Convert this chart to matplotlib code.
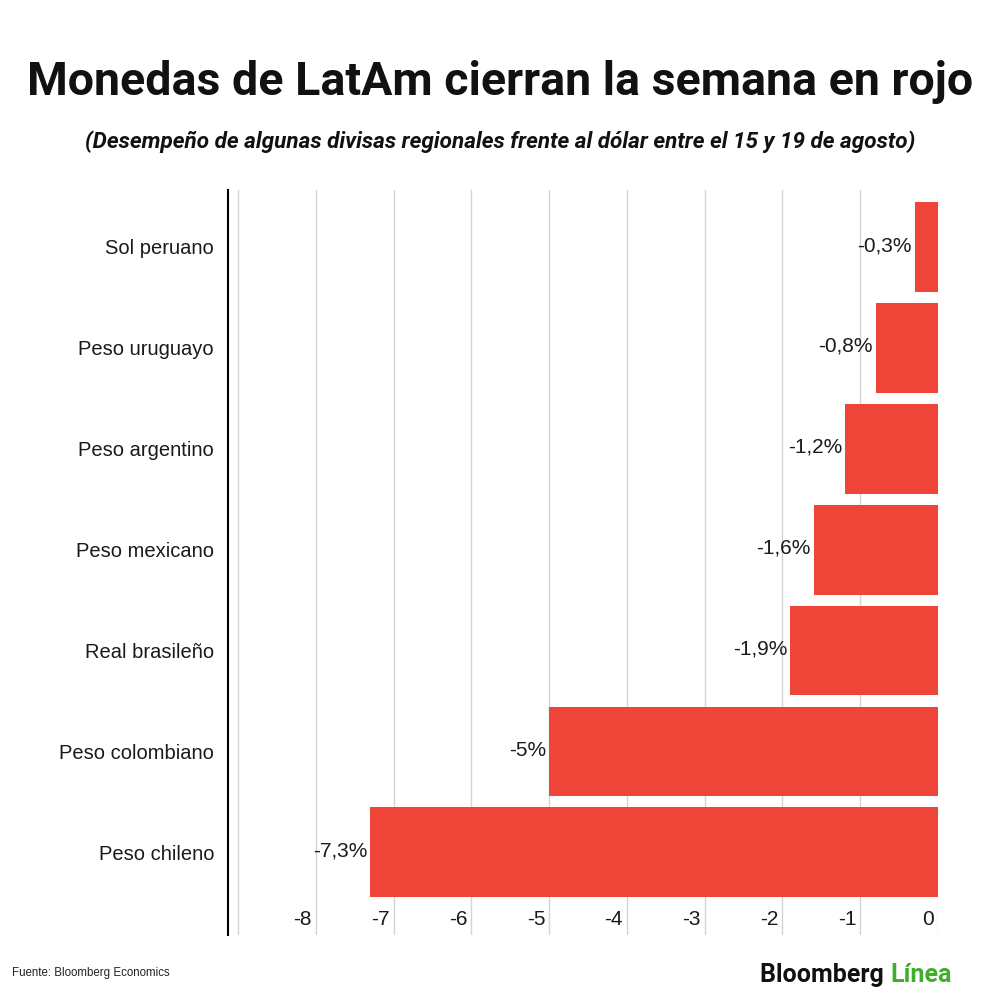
import matplotlib.pyplot as plt
from matplotlib.transforms import ScaledTranslation

# data (top to bottom as shown)
currencies = ["Sol peruano", "Peso uruguayo", "Peso argentino", "Peso mexicano",
              "Real brasileño", "Peso colombiano", "Peso chileno"]
change_pct = [-0.3, -0.8, -1.2, -1.6, -1.9, -5.0, -7.3]
value_labels = ["-0,3%", "-0,8%", "-1,2%", "-1,6%", "-1,9%", "-5%", "-7,3%"]
xticks = [-9, -8, -7, -6, -5, -4, -3, -2, -1, 0]
xtick_labels = ["", "-8", "-7", "-6", "-5", "-4", "-3", "-2", "-1", "0"]

BAR_RED = "#ee4538"
GREEN = "#3fae2a"

plt.rcParams["font.family"] = ["Liberation Sans", "DejaVu Sans"]

fig = plt.figure(figsize=(10, 10.06), dpi=100)
ax = fig.add_axes([0.228, 1 - 935 / 1006, 0.71, 745 / 1006])

ypos = list(range(len(currencies)))
ax.barh(ypos, change_pct, height=0.89, color=BAR_RED, zorder=3)
for y, v, lbl in zip(ypos, change_pct, value_labels):
    ax.annotate(lbl, (v, y), xytext=(-2, 1), textcoords="offset points",
                ha="right", va="center", fontsize=15, color="#1a1a1a", zorder=4)

ax.set_xlim(-9.13, 0)
ax.set_ylim(6.82, -0.565)
ax.set_yticks(ypos)
ax.set_yticklabels(currencies, fontsize=14.5, color="#1a1a1a")
ax.set_xticks(xticks)
ax.set_xticklabels(xtick_labels, fontsize=15, color="#1a1a1a")
ax.tick_params(axis="y", length=0, pad=10)
ax.tick_params(axis="x", length=0, pad=-18)
for t in ax.get_xticklabels():
    t.set_ha("right")
    t.set_transform(t.get_transform() + ScaledTranslation(-4 / 100, 0, fig.dpi_scale_trans))

ax.grid(axis="x", color="#d4d4d4", linewidth=1, zorder=0)
for s in ["top", "right", "bottom"]:
    ax.spines[s].set_visible(False)
ax.spines["left"].set_color("black")
ax.spines["left"].set_linewidth(1.5)

fig.text(0.5, 1 - 82 / 1006, "Monedas de LatAm cierran la semana en rojo",
         ha="center", va="center", fontsize=33.5, fontweight="bold", color="#111111",
         family=["Roboto", "DejaVu Sans"])
fig.text(0.5, 1 - 142 / 1006,
         "(Desempeño de algunas divisas regionales frente al dólar entre el 15 y 19 de agosto)",
         ha="center", va="center", fontsize=16.2, fontweight="bold", style="italic",
         color="#111111", family=["Roboto", "DejaVu Sans"])
fig.text(12 / 1000, 1 - 973 / 1006, "Fuente: Bloomberg Economics", ha="left", va="center",
         fontsize=8.3, color="#222222")
logo = fig.text(760 / 1000, 1 - 975 / 1006, "Bloomberg ", ha="left", va="center",
                fontsize=18, fontweight="bold", color="#111111", family=["Roboto", "DejaVu Sans"])
fig.canvas.draw()
bb = logo.get_window_extent()
fig.text(bb.x1 / fig.bbox.width, 1 - 975 / 1006, "Línea", ha="left", va="center",
         fontsize=18, fontweight="bold", color=GREEN, family=["Roboto", "DejaVu Sans"])

fig.savefig("out.png", dpi=100)
